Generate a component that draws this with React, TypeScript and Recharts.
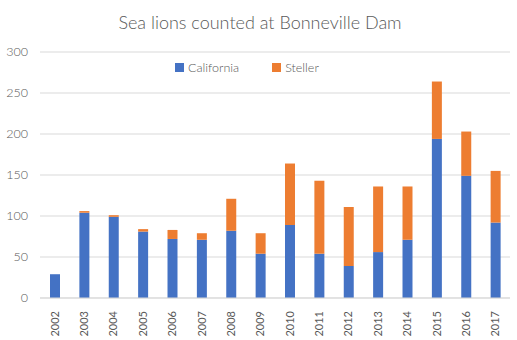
import { BarChart, Bar, XAxis, YAxis, CartesianGrid } from "recharts";

const years = ["2002", "2003", "2004", "2005", "2006", "2007", "2008", "2009", "2010", "2011", "2012", "2013", "2014", "2015", "2016", "2017"];
const california = [29, 104, 99, 81, 72, 71, 82, 54, 89, 54, 39, 56, 71, 194, 149, 92];
const steller = [0, 2, 2, 3, 11, 8, 39, 25, 75, 89, 72, 80, 65, 70, 54, 63];
const yTicks = [0, 50, 100, 150, 200, 250, 300];

const data = years.map((year, i) => ({ year, california: california[i], steller: steller[i] }));

const FONT = "Lato, 'Open Sans', sans-serif";
const TEXT = "#595959";
const BLUE = "#4472C4";
const ORANGE = "#ED7D31";

function YearTick({ x, y, payload }: any) {
  return (
    <text
      x={x}
      y={y}
      transform={`rotate(-90, ${x}, ${y})`}
      dx={-5}
      dy={4}
      textAnchor="end"
      fill={TEXT}
      fontSize={11}
      fontFamily={FONT}
    >
      {payload.value}
    </text>
  );
}

export default function App() {
  return (
    <div style={{ position: "absolute", left: 0, top: 0, width: 517, height: 340, background: "#fff", fontFamily: FONT }}>
      <div style={{ position: "absolute", left: 0, width: 520, top: 11, textAlign: "center", fontSize: 18, fontWeight: 300, color: TEXT }}>
        Sea lions counted at Bonneville Dam
      </div>
      <div style={{ position: "absolute", top: 60, left: 175, display: "flex", alignItems: "center", fontSize: 12.5, fontWeight: 300, color: TEXT }}>
        <span style={{ width: 9, height: 9, background: BLUE, display: "inline-block", marginRight: 4 }} />
        <span>California</span>
        <span style={{ width: 9, height: 9, background: ORANGE, display: "inline-block", marginLeft: 33, marginRight: 4 }} />
        <span>Steller</span>
      </div>
      <BarChart width={517} height={340} data={data} margin={{ top: 52, right: 7, bottom: 0, left: 0 }} barSize={10}>
        <CartesianGrid vertical={false} stroke="#d9d9d9" />
        <XAxis
          dataKey="year"
          height={42}
          interval={0}
          tickLine={false}
          axisLine={{ stroke: "#d9d9d9" }}
          tick={<YearTick />}
        />
        <YAxis
          width={40}
          domain={[0, 300]}
          ticks={yTicks}
          tickLine={false}
          axisLine={false}
          tickMargin={6}
          tick={{ fill: TEXT, fontSize: 12.5, fontWeight: 300, fontFamily: FONT }}
        />
        <Bar dataKey="california" stackId="a" fill={BLUE} isAnimationActive={false} />
        <Bar dataKey="steller" stackId="a" fill={ORANGE} isAnimationActive={false} />
      </BarChart>
    </div>
  );
}
